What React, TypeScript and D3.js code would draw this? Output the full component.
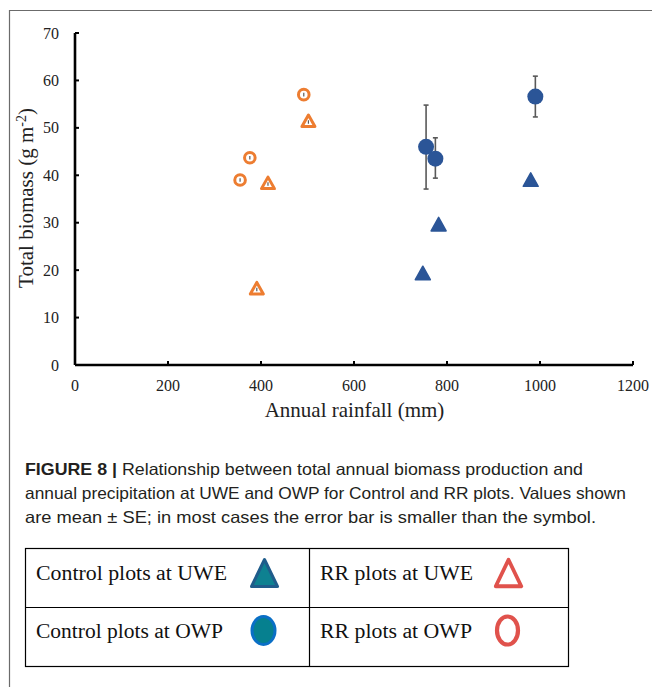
import React from "react";
import * as d3 from "d3";

const xTicks = [0, 200, 400, 600, 800, 1000, 1200];
const yTicks = [0, 10, 20, 30, 40, 50, 60, 70];

// Control plots at OWP (filled blue circles) with SE
const ctrlOwpX = [755, 775, 990];
const ctrlOwpY = [46.0, 43.5, 56.6];
const ctrlOwpHi = [54.8, 47.9, 60.9];
const ctrlOwpLo = [37.1, 39.4, 52.3];

// Control plots at UWE (filled blue triangles)
const ctrlUweX = [748, 782, 980];
const ctrlUweY = [19.4, 29.7, 39.1];

// RR plots at OWP (hollow orange circles)
const rrOwpX = [355, 376, 492];
const rrOwpY = [39.0, 43.7, 57.0];

// RR plots at UWE (hollow orange triangles)
const rrUweX = [391, 415, 502];
const rrUweY = [16.2, 38.4, 51.5];

const captionLines = [
  "Relationship between total annual biomass production and",
  "annual precipitation at UWE and OWP for Control and RR plots. Values shown",
  "are mean \u00b1 SE; in most cases the error bar is smaller than the symbol.",
];

const legendLabels = [
  "Control plots at UWE",
  "RR plots at UWE",
  "Control plots at OWP",
  "RR plots at OWP",
];

const BLUE = "#2B5597";
const ORANGE = "#ED7D31";
const ERR = "#595959";
const SERIF = "'Liberation Serif', 'Times New Roman', serif";
const SANS = "'Liberation Sans', Arial, sans-serif";

function tri(cx: number, cy: number, w: number, h: number) {
  return `M${cx},${cy - h / 2}L${cx + w / 2},${cy + h / 2}L${cx - w / 2},${cy + h / 2}Z`;
}

export default function App() {
  const x = d3.scaleLinear().domain([0, 1200]).range([75, 633]);
  const y = d3.scaleLinear().domain([0, 70]).range([365, 33]);

  return (
    <svg width={652} height={687} style={{ position: "absolute", left: 0, top: 0, background: "#fff" }}>
      <rect x={0} y={0} width={652} height={687} fill="#fff" />
      {/* frame */}
      <line x1={9} y1={10.5} x2={652} y2={10.5} stroke="#6b6b6b" strokeWidth={1.2} />
      <line x1={9.5} y1={10} x2={9.5} y2={687} stroke="#6b6b6b" strokeWidth={1.2} />

      {/* axes */}
      <line x1={x(0)} y1={y(0)} x2={x(1200)} y2={y(0)} stroke="#000" strokeWidth={2.6} />
      <line x1={x(0)} y1={y(0)} x2={x(0)} y2={y(70)} stroke="#000" strokeWidth={2.6} />
      {xTicks.map((t) => (
        <g key={"xt" + t}>
          <line x1={x(t)} x2={x(t)} y1={y(0)} y2={y(0) - 4} stroke="#000" strokeWidth={2} />
          <text x={x(t)} y={391} textAnchor="middle" fontFamily={SERIF} fontSize={16} fill="#222">
            {t}
          </text>
        </g>
      ))}
      {yTicks.map((t) => (
        <g key={"yt" + t}>
          <line x1={x(0)} x2={x(0) + 4} y1={y(t)} y2={y(t)} stroke="#000" strokeWidth={2} />
          <text x={59} y={y(t) + 5.5} textAnchor="end" fontFamily={SERIF} fontSize={16} fill="#222">
            {t}
          </text>
        </g>
      ))}
      <text x={354.5} y={417} textAnchor="middle" fontFamily={SERIF} fontSize={21} fill="#222">
        Annual rainfall (mm)
      </text>
      <text
        transform={`translate(33,198) rotate(-90)`}
        textAnchor="middle"
        fontFamily={SERIF}
        fontSize={21}
        fill="#222"
      >
        Total biomass (g m<tspan dy={-7} fontSize={14}>-2</tspan>
        <tspan dy={7}>)</tspan>
      </text>

      {/* Control OWP error bars + circles */}
      {ctrlOwpX.map((v, i) => (
        <g key={"co" + i}>
          <line x1={x(v)} x2={x(v)} y1={y(ctrlOwpHi[i])} y2={y(ctrlOwpLo[i])} stroke={ERR} strokeWidth={1.6} />
          <line x1={x(v) - 2.5} x2={x(v) + 2.5} y1={y(ctrlOwpHi[i])} y2={y(ctrlOwpHi[i])} stroke={ERR} strokeWidth={1.6} />
          <line x1={x(v) - 2.5} x2={x(v) + 2.5} y1={y(ctrlOwpLo[i])} y2={y(ctrlOwpLo[i])} stroke={ERR} strokeWidth={1.6} />
        </g>
      ))}
      {ctrlOwpX.map((v, i) => (
        <circle key={"cc" + i} cx={x(v)} cy={y(ctrlOwpY[i])} r={8} fill={BLUE} />
      ))}
      {ctrlUweX.map((v, i) => (
        <path key={"cu" + i} d={tri(x(v), y(ctrlUweY[i]), 15, 13.5)} fill={BLUE} stroke={BLUE} strokeWidth={1.5} strokeLinejoin="round" />
      ))}
      {rrOwpX.map((v, i) => (
        <g key={"ro" + i}>
          <circle cx={x(v)} cy={y(rrOwpY[i])} r={5.3} fill="#fff" stroke={ORANGE} strokeWidth={3} />
          <line x1={x(v)} x2={x(v)} y1={y(rrOwpY[i]) - 1.8} y2={y(rrOwpY[i]) + 1.8} stroke={ERR} strokeWidth={1.2} />
        </g>
      ))}
      {rrUweX.map((v, i) => (
        <g key={"ru" + i}>
          <path d={tri(x(v), y(rrUweY[i]), 13, 11.5)} fill="#fff" stroke={ORANGE} strokeWidth={3} strokeLinejoin="round" />
          <line x1={x(v)} x2={x(v)} y1={y(rrUweY[i]) - 0.5} y2={y(rrUweY[i]) + 3} stroke={ERR} strokeWidth={1.2} />
        </g>
      ))}

      {/* caption */}
      <text x={25} y={475} fontFamily={SANS} fontSize={16.5} fill="#231F20" textLength={558} lengthAdjust="spacingAndGlyphs">
        <tspan fontWeight="bold">FIGURE 8 | </tspan>
        {captionLines[0]}
      </text>
      <text x={25} y={499} fontFamily={SANS} fontSize={16.5} fill="#231F20" textLength={601} lengthAdjust="spacingAndGlyphs">
        {captionLines[1]}
      </text>
      <text x={25} y={523} fontFamily={SANS} fontSize={16.5} fill="#231F20" textLength={571} lengthAdjust="spacingAndGlyphs">
        {captionLines[2]}
      </text>

      {/* legend table */}
      <rect x={25.5} y={548.5} width={543} height={118} fill="none" stroke="#000" strokeWidth={1.2} />
      <line x1={309.5} x2={309.5} y1={548} y2={667} stroke="#000" strokeWidth={1.2} />
      <line x1={25} x2={569} y1={607.5} y2={607.5} stroke="#000" strokeWidth={1.2} />
      <text x={36} y={580} fontFamily={SERIF} fontSize={20} fill="#111" textLength={191} lengthAdjust="spacingAndGlyphs">
        {legendLabels[0]}
      </text>
      <text x={320} y={580} fontFamily={SERIF} fontSize={20} fill="#111" textLength={153} lengthAdjust="spacingAndGlyphs">
        {legendLabels[1]}
      </text>
      <text x={36} y={638} fontFamily={SERIF} fontSize={20} fill="#111" textLength={187} lengthAdjust="spacingAndGlyphs">
        {legendLabels[2]}
      </text>
      <text x={320} y={638} fontFamily={SERIF} fontSize={20} fill="#111" textLength={152} lengthAdjust="spacingAndGlyphs">
        {legendLabels[3]}
      </text>
      <path d={tri(264.5, 573, 26, 27)} fill="#0E8191" stroke="#1F5C8B" strokeWidth={3} strokeLinejoin="round" />
      <ellipse cx={263.5} cy={630.5} rx={11.5} ry={14} fill="#06808F" stroke="#0A6FC6" strokeWidth={3} />
      <path d={tri(508.5, 573, 25.5, 26.5)} fill="#fff" stroke="#E0524C" strokeWidth={3.8} strokeLinejoin="round" />
      <ellipse cx={507.5} cy={630.5} rx={10.5} ry={14} fill="#fff" stroke="#E0524C" strokeWidth={4.2} />
    </svg>
  );
}
